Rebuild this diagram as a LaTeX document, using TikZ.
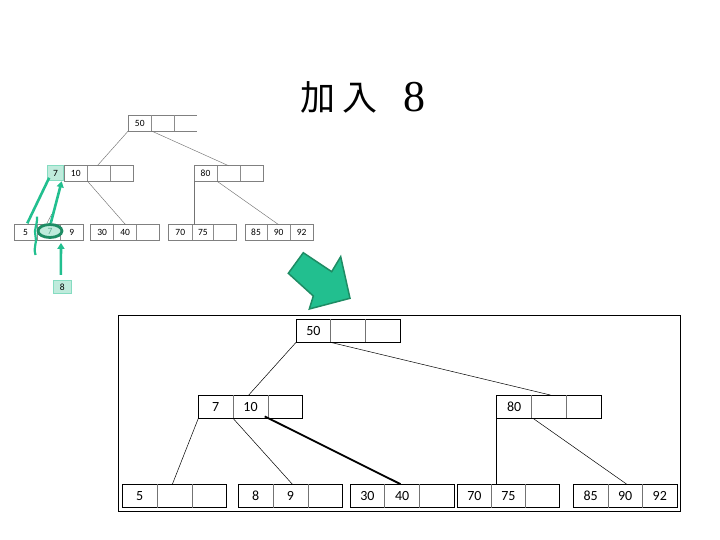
\documentclass[tikz,border=0pt]{standalone}
\usepackage{fontspec}
\setmainfont{Carlito}
\newfontfamily\cjk{Noto Sans CJK TC}
\newfontfamily\titleserif{Liberation Serif}
\usetikzlibrary{calc,arrows.meta,shapes.geometric}
\definecolor{grn}{HTML}{22BF8F}
\definecolor{dgrn}{HTML}{1E8C64}
\definecolor{lgrn}{HTML}{BFEBDC}
\begin{document}
\begin{tikzpicture}[x=1pt,y=-1pt,
 bcell/.style={minimum width=34.4pt,minimum height=23pt,inner sep=0pt,anchor=west,font=\fontsize{14}{14}\selectfont},
 scell/.style={minimum width=22.6pt,minimum height=15pt,inner sep=0pt,anchor=west,font=\fontsize{9.5}{9.5}\selectfont},
 bout/.style={draw=black,line width=0.8pt},
 bdiv/.style={draw=black!55,line width=0.7pt},
 sout/.style={draw=black!50,line width=0.6pt},
 sdiv/.style={draw=black!45,line width=0.6pt},
 blink/.style={draw=black,line width=0.5pt},
 slink/.style={draw=black!55,line width=0.45pt},
 note/.style={draw=grn,line width=2.6pt},
 notearrow/.style={note,-{Triangle[length=6pt,width=7pt]}},
]
\useasboundingbox (0,0) rectangle (720,540);

% title
\node[font=\cjk\fontsize{35}{35}\selectfont,inner sep=0pt] (t1) at (339,97) {加\kern8pt 入};
\node[font=\titleserif\fontsize{44}{44}\selectfont,inner sep=0pt] (t2) at (414.5,97) {8};

% ---------------- small tree ----------------
\node[scell] (sR1) at (128.3,123.2) {50};
\node[scell] (sR2) at (sR1.east) {};
\node[scell] (sR3) at (sR2.east) {};
\draw[sout] (sR1.south west) -- (sR1.north west) -- (sR3.north east);
\draw[sout] (sR1.south west) -- (sR3.south east);
\draw[sdiv] (sR1.north east) -- (sR1.south east) (sR2.north east) -- (sR2.south east);

\node[scell] (sA1) at (64.3,173.3) {10};
\node[scell] (sA2) at (sA1.east) {};
\node[scell] (sA3) at (sA2.east) {};
\draw[sout] (sA1.north west) rectangle (sA3.south east);
\draw[sdiv] (sA1.north east) -- (sA1.south east) (sA2.north east) -- (sA2.south east);
\node[scell,minimum width=16.6pt,fill=lgrn,draw=grn!55,line width=1pt,anchor=east] (sA0) at (sA1.west) {7};

\node[scell] (sB1) at (194,173.5) {80};
\node[scell] (sB2) at (sB1.east) {};
\node[scell] (sB3) at (sB2.east) {};
\draw[sout] (sB1.north west) rectangle (sB3.south east);
\draw[sdiv] (sB1.north east) -- (sB1.south east) (sB2.north east) -- (sB2.south east);

\node[scell] (sC1) at (14,232.5) {5};
\node[scell,minimum width=23.3pt] (sC2) at (sC1.east) {};
\node[scell,minimum width=21.7pt] (sC3) at (sC2.east) {9};
\draw[sout] (sC1.north west) rectangle (sC3.south east);
\draw[sdiv] (sC1.north east) -- (sC1.south east) (sC2.north east) -- (sC2.south east);

\node[scell] (sD1) at (90.7,232.5) {30};
\node[scell] (sD2) at (sD1.east) {40};
\node[scell] (sD3) at (sD2.east) {};
\draw[sout] (sD1.north west) rectangle (sD3.south east);
\draw[sdiv] (sD1.north east) -- (sD1.south east) (sD2.north east) -- (sD2.south east);

\node[scell,minimum width=23.5pt] (sE1) at (168.3,232.5) {70};
\node[scell,minimum width=20.9pt] (sE2) at (sE1.east) {75};
\node[scell] (sE3) at (sE2.east) {};
\draw[sout] (sE1.north west) rectangle (sE3.south east);
\draw[sdiv] (sE1.north east) -- (sE1.south east) (sE2.north east) -- (sE2.south east);

\node[scell,minimum width=21.7pt] (sF1) at (245,232.5) {85};
\node[scell] (sF2) at (sF1.east) {90};
\node[scell] (sF3) at (sF2.east) {92};
\draw[sout] (sF1.north west) rectangle (sF3.south east);
\draw[sdiv] (sF1.north east) -- (sF1.south east) (sF2.north east) -- (sF2.south east);

\draw[slink] (sR1.south west) -- ($(sA2.north west)!0.44!(sA2.north east)$);
\draw[slink] (sR2.south west) -- ($(sB2.north west)!0.51!(sB2.north east)$);
\draw[slink] (sA2.south west) -- ($(sD2.north west)!0.52!(sD2.north east)$);
\draw[slink] (sB1.south west) -- (sB1.south west |- sE2.north);
\draw[slink] (sB2.south west) -- ($(sF2.north west)!0.51!(sF2.north east)$);

\node[scell,minimum width=18.3pt,minimum height=13pt,fill=lgrn,draw=grn!55,line width=1pt] (s8) at (52.7,286.8) {8};

% green annotations
\coordinate (n1e) at (27.3,223.3);
\coordinate (wq1) at (37,216.7);
\coordinate (wq2) at (35.5,255);
\draw[note] ($(sA0.south west)!0.14!(sA0.south east)+(0,-3.5)$) -- (n1e);
\draw[note,line width=2.2pt] (wq1) .. controls (37.5,226) and (33.5,229) .. (35.5,236) .. controls (37.5,243) and (33,246) .. (wq2);
\node[ellipse,draw=dgrn,line width=2.8pt,fill=lgrn,minimum width=24pt,minimum height=13pt,inner sep=0pt,text=dgrn!70,font=\fontsize{9.5}{9.5}\selectfont] (ell) at (50,231) {7};
\draw[black!60,line width=0.4pt] ($(ell.north)+(-3,0)$) -- ($(ell.north)+(1.8,-9)$);
\draw[notearrow] ($(ell.north)+(0.8,0)$) -- ($(sA0.south east)+(-2.6,0)$);
\draw[notearrow] ($(s8.north)+(-1.5,-5)$) -- ($(sC3.south west)+(0.3,2.7)$);

% big arrow
\draw[fill=grn,draw=dgrn,line width=1.5pt,line join=miter]
  (303.3,252.7) -- (288.3,273.3) -- (313.3,296) -- (309.3,309) -- (350,298.3) -- (340.7,256.7) -- (331.7,271.7) -- cycle;

% ---------------- big tree ----------------
\draw[black,line width=0.9pt] (118.3,315) rectangle (680,511.7);

\node[bcell] (R1) at (296,330.7) {50};
\node[bcell] (R2) at (R1.east) {};
\node[bcell] (R3) at (R2.east) {};
\draw[bout] (R1.north west) rectangle (R3.south east);
\draw[bdiv] (R1.north east) -- (R1.south east) (R2.north east) -- (R2.south east);

\node[bcell] (A1) at (198.3,406.7) {7};
\node[bcell] (A2) at (A1.east) {10};
\node[bcell] (A3) at (A2.east) {};
\draw[bout] (A1.north west) rectangle (A3.south east);
\draw[bdiv] (A1.north east) -- (A1.south east) (A2.north east) -- (A2.south east);

\node[bcell] (B1) at (496.7,406.7) {80};
\node[bcell] (B2) at (B1.east) {};
\node[bcell] (B3) at (B2.east) {};
\draw[bout] (B1.north west) rectangle (B3.south east);
\draw[bdiv] (B1.north east) -- (B1.south east) (B2.north east) -- (B2.south east);

\node[bcell] (C1) at (122.3,495.8) {5};
\node[bcell] (C2) at (C1.east) {};
\node[bcell] (C3) at (C2.east) {};
\draw[bout] (C1.north west) rectangle (C3.south east);
\draw[bdiv] (C1.north east) -- (C1.south east) (C2.north east) -- (C2.south east);

\node[bcell] (D1) at (238.3,495.8) {8};
\node[bcell] (D2) at (D1.east) {9};
\node[bcell] (D3) at (D2.east) {};
\draw[bout] (D1.north west) rectangle (D3.south east);
\draw[bdiv] (D1.north east) -- (D1.south east) (D2.north east) -- (D2.south east);

\node[bcell] (E1) at (350,495.8) {30};
\node[bcell] (E2) at (E1.east) {40};
\node[bcell] (E3) at (E2.east) {};
\draw[bout] (E1.north west) rectangle (E3.south east);
\draw[bdiv] (E1.north east) -- (E1.south east) (E2.north east) -- (E2.south east);

\node[bcell,minimum width=33.7pt] (F1) at (457.3,495.8) {70};
\node[bcell,minimum width=33.7pt] (F2) at (F1.east) {75};
\node[bcell,minimum width=33.7pt] (F3) at (F2.east) {};
\draw[bout] (F1.north west) rectangle (F3.south east);
\draw[bdiv] (F1.north east) -- (F1.south east) (F2.north east) -- (F2.south east);

\node[bcell,minimum width=34.2pt] (G1) at (573.3,495.8) {85};
\node[bcell,minimum width=34.2pt] (G2) at (G1.east) {90};
\node[bcell,minimum width=34.2pt] (G3) at (G2.east) {92};
\draw[bout] (G1.north west) rectangle (G3.south east);
\draw[bdiv] (G1.north east) -- (G1.south east) (G2.north east) -- (G2.south east);

\draw[blink] (R1.south west) -- ($(A2.north west)!0.45!(A2.north east)$);
\draw[blink] (R2.south west) -- ($(B2.north west)!0.54!(B2.north east)$);
\draw[blink] (A1.south west) -- ($(C2.north west)!0.44!(C2.north east)$);
\draw[blink] (A2.south west) -- ($(D2.north west)!0.55!(D2.north east)$);
\draw[black,line width=1.8pt] ($(A2.south west)!0.91!(A2.south east)+(0,-2)$) -- ($(E2.north west)!0.45!(E2.north east)$);
\draw[blink] (B1.south west) -- (B1.south west |- F2.north);
\draw[blink] ($(B2.south west)+(1.6,0)$) -- ($(G2.north west)!0.54!(G2.north east)$);
\end{tikzpicture}
\end{document}
